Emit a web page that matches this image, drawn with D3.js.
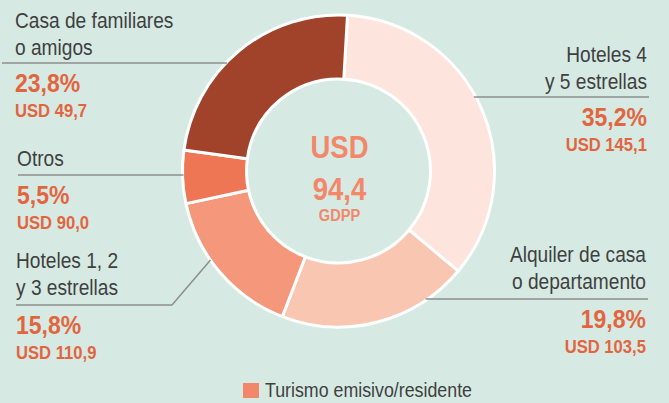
<!DOCTYPE html>
<html>
<head>
<meta charset="utf-8">
<script src="https://cdn.jsdelivr.net/npm/d3@7"></script>
<style>
  body { margin: 0; background: #d6eae3; }
  svg { display: block; font-family: 'Liberation Sans', Arial, sans-serif; }
</style>
</head>
<body>
<svg id="chart" width="669" height="403"></svg>
<script>
// data
const categories = ['Hoteles 4 y 5 estrellas', 'Alquiler de casa o departamento', 'Hoteles 1, 2 y 3 estrellas', 'Otros', 'Casa de familiares o amigos'];
const shares = [35.2, 19.8, 15.8, 5.5, 23.8];
const spend = ['145,1', '103,5', '110,9', '90,0', '49,7'];
const labelLines = [
  ['Hoteles 4', 'y 5 estrellas'],
  ['Alquiler de casa', 'o departamento'],
  ['Hoteles 1, 2', 'y 3 estrellas'],
  ['Otros'],
  ['Casa de familiares', 'o amigos']
];
const totalLabel = ['USD', '94,4', 'GDPP'];
const legendLabel = 'Turismo emisivo/residente';

const colors = ['#fde4dc', '#f9c7b1', '#f4977a', '#ee7654', '#a0432a'];
const cx = 338.5, cy = 171, rOut = 156, rIn = 92;

const svg = d3.select('#chart');
svg.append('rect').attr('width', 669).attr('height', 403).attr('fill', '#d6eae3');

// condensed look: squeeze text horizontally
const addText = (parent, x, y, str, o) => {
  const t = parent.append('g')
    .attr('transform', 'translate(' + x + ',' + y + ') scale(' + (o.sx || 0.9) + ',1)')
    .append('text')
    .attr('font-size', o.size)
    .attr('fill', o.fill)
    .attr('text-anchor', o.anchor || 'start')
    .text(str);
  if (o.bold) t.attr('font-weight', 'bold');
  return t;
};

const g = svg.append('g').attr('transform', 'translate(' + cx + ',' + cy + ')');

const start = 3.3 * Math.PI / 180;
const pie = d3.pie().sort(null).value(d => d).startAngle(start).endAngle(start + 2 * Math.PI);
const arc = d3.arc().innerRadius(rIn).outerRadius(rOut);
const arcs = pie(shares);

// label layout (text blocks), one per slice
const layout = [
  { side: 'right', x: 647, y: 62, lineY: 97 },
  { side: 'right', x: 646, y: 262, lineY: 299 },
  { side: 'left', x: 16, y: 268, lineY: 305, bend: true },
  { side: 'left', x: 17, y: 166, lineY: 175 },
  { side: 'left', x: 15, y: 28, lineY: 63 }
];

// edge x of the donut at a given y
const edgeX = (y, side) => {
  const dy = y - cy;
  const dx = Math.sqrt(Math.max(0, rOut * rOut - dy * dy));
  return side === 'right' ? cx + dx : cx - dx;
};

const lines = svg.append('g').attr('stroke', '#8e8e8e').attr('stroke-width', 1.5).attr('fill', 'none');
layout.forEach((l, i) => {
  if (l.side === 'right') {
    const x0 = edgeX(l.lineY, 'right');
    lines.append('line').attr('x1', x0 - 2).attr('x2', l.x + 2).attr('y1', l.lineY).attr('y2', l.lineY);
  } else if (l.bend) {
    // diagonal leader toward the slice edge
    const bx = 172, by = l.lineY;
    const dirx = 36, diry = -42;
    let t = 0;
    while (Math.hypot(bx + dirx * t - cx, by + diry * t - cy) > rOut && t < 3) t += 0.01;
    lines.append('polyline').attr('points', [[l.x, by], [bx, by], [bx + dirx * t, by + diry * t]].map(p => p.join(',')).join(' '));
  } else {
    const x1 = edgeX(l.lineY, 'left');
    lines.append('line').attr('x1', i === 3 ? 18 : 2).attr('x2', x1 + 1).attr('y1', l.lineY).attr('y2', l.lineY);
  }
});

g.selectAll('path.slice')
  .data(arcs)
  .enter()
  .append('path')
  .attr('class', 'slice')
  .attr('d', arc)
  .attr('fill', (d, i) => colors[i])
  .attr('stroke', '#fff')
  .attr('stroke-width', 3)
  .attr('stroke-linejoin', 'round');

// labels
layout.forEach((l, i) => {
  const anchor = l.side === 'right' ? 'end' : 'start';
  labelLines[i].forEach((s, k) => {
    addText(svg, l.x, l.y + k * 27, s, { size: 22, fill: '#3f3f3f', anchor, sx: 0.87 });
  });
  addText(svg, l.x, l.lineY + 29, shares[i].toFixed(1).replace('.', ',') + '%',
    { size: 25, fill: '#e2653f', anchor, bold: true, sx: 0.92 });
  addText(svg, l.x, l.lineY + 54, 'USD ' + spend[i],
    { size: 18.5, fill: '#e2653f', anchor, bold: true, sx: 0.9 });
});

// center total
addText(svg, cx + 1, 158, totalLabel[0], { size: 32, fill: '#f2876a', anchor: 'middle', bold: true, sx: 0.86 });
addText(svg, cx + 1, 200, totalLabel[1], { size: 32, fill: '#f2876a', anchor: 'middle', bold: true, sx: 0.86 });
addText(svg, cx + 1, 221, totalLabel[2], { size: 17, fill: '#f2876a', anchor: 'middle', bold: true, sx: 0.86 });

// legend
const legend = svg.append('g').attr('transform', 'translate(243,383)');
legend.append('rect').attr('width', 16).attr('height', 15).attr('fill', '#f2876a');
addText(legend, 22, 14, legendLabel, { size: 20, fill: '#3f3f3f', sx: 0.89 });
</script>
</body>
</html>
